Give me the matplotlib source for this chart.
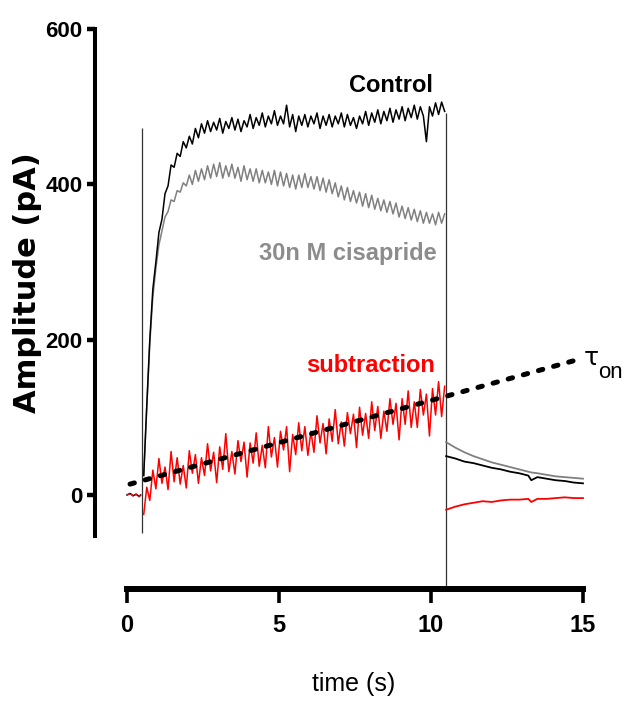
import numpy as np
import matplotlib
matplotlib.use('Agg')
import matplotlib.pyplot as plt

SANS = ['Liberation Sans', 'DejaVu Sans']

# baseline before the pulse (s, pA)
pre_t = [0.0, 0.1, 0.2, 0.3, 0.4, 0.45]
pre_v = [0, 2, -1, 1, -2, 0]

# stimulus artifacts (time, low, high)
artifact_on = (0.49, -49, 473)
artifact_off = (10.49, -118, 492)

# on-phase, sampled every 0.1 s from 0.55 s
on_t = np.round(np.arange(0.55, 10.5, 0.1), 2)

control_on = [25, 115, 200, 265, 300, 338, 355, 388, 398, 425,
              422, 440, 436, 455, 447, 462, 452, 472, 460, 478,
              466, 482, 468, 480, 470, 485, 466, 481, 472, 486,
              470, 484, 468, 482, 474, 490, 472, 486, 476, 492,
              474, 488, 478, 495, 476, 488, 478, 502, 474, 490,
              468, 488, 476, 490, 474, 488, 478, 492, 472, 488,
              476, 490, 474, 488, 478, 492, 474, 490, 476, 486,
              472, 488, 478, 494, 476, 492, 480, 496, 478, 494,
              482, 498, 480, 496, 484, 500, 482, 498, 486, 502,
              484, 500, 488, 455, 500, 488, 505, 490, 506, 494]

cisapride_on = [25, 112, 195, 255, 292, 322, 340, 358, 365, 380,
                378, 392, 390, 402, 398, 412, 400, 418, 404, 420,
                406, 424, 408, 426, 410, 428, 408, 424, 410, 426,
                408, 422, 404, 424, 406, 420, 404, 420, 402, 418,
                402, 416, 400, 418, 398, 416, 398, 414, 396, 412,
                394, 412, 396, 414, 396, 410, 394, 410, 392, 408,
                390, 406, 388, 402, 384, 398, 380, 396, 378, 392,
                376, 390, 372, 388, 370, 386, 368, 382, 366, 380,
                364, 378, 362, 376, 358, 372, 356, 370, 354, 368,
                352, 366, 350, 364, 350, 362, 348, 364, 350, 362]

subtraction_on = [-25, 10, -7, 32, 8, 47, 15, 36, 7, 56,
                  17, 48, 14, 38, 9, 57, 28, 52, 15, 48,
                  25, 66, 31, 55, 16, 62, 33, 79, 30, 56,
                  27, 70, 43, 68, 23, 67, 41, 80, 37, 64,
                  35, 88, 49, 74, 36, 82, 58, 88, 30, 78,
                  52, 93, 57, 88, 51, 82, 55, 102, 67, 92,
                  53, 98, 69, 110, 66, 94, 63, 106, 79, 104,
                  61, 113, 77, 105, 73, 120, 83, 114, 73, 108,
                  82, 124, 91, 118, 71, 124, 91, 134, 87, 120,
                  87, 136, 103, 130, 76, 137, 103, 146, 101, 140]

# off-phase (tail after the pulse)
off_t = [10.5, 10.8, 11.1, 11.4, 11.7, 12.0, 12.3, 12.6, 12.9, 13.2,
         13.3, 13.5, 13.8, 14.1, 14.4, 14.7, 15.0]
control_off = [50, 47, 43, 41, 38, 35, 33, 30, 28, 25, 19, 23, 21, 19, 18, 16, 15]
cisapride_off = [68, 61, 55, 50, 46, 42, 39, 36, 33, 30, 29, 28, 26, 24, 23, 22, 21]
subtraction_off = [-19, -15, -12, -10, -8, -9, -7, -6, -6, -5, -9, -5, -5, -4, -3, -4, -4]

# tau_on fit line
fit_t = [0.1, 14.8]
fit_v = [14, 174]

fig = plt.figure(figsize=(6.26, 7.11), dpi=100)
ax = fig.add_axes([80 / 626, 91 / 711, 520 / 626, 600 / 711])

gray = '#808080'
lw = 1.1

ax.plot(pre_t, pre_v, color='black', lw=lw, zorder=3)
ax.plot(pre_t, pre_v, color='red', lw=lw, ls=(0, (2, 1)), zorder=4)
ax.vlines(artifact_on[0], artifact_on[1], artifact_on[2], color='#333333', lw=0.9, zorder=2)
ax.vlines(artifact_off[0], artifact_off[1], artifact_off[2], color='#333333', lw=0.9, zorder=2)

ax.plot(on_t, cisapride_on, color=gray, lw=lw, zorder=2)
ax.plot(on_t, control_on, color='black', lw=lw, zorder=3)
ax.plot(on_t, subtraction_on, color='red', lw=lw, zorder=4)

ax.plot(off_t, cisapride_off, color=gray, lw=1.3, zorder=2)
ax.plot(off_t, control_off, color='black', lw=1.3, zorder=3)
ax.plot(off_t, subtraction_off, color='red', lw=1.3, zorder=4)

ax.plot(fit_t, fit_v, color='black', lw=3.6, ls=(0, (0.9, 2.24)),
        dash_capstyle='round', zorder=5)

ax.text(10.07, 519, 'Control', ha='right', va='baseline', fontsize=17,
        fontweight='bold', family=SANS, color='black')
ax.text(10.2, 303, '30n M cisapride', ha='right', va='baseline', fontsize=17,
        fontweight='bold', family=SANS, color='#8c8c8c')
ax.text(10.13, 158, 'subtraction', ha='right', va='baseline', fontsize=17,
        fontweight='bold', family=SANS, color='red')
ax.text(15.02, 168, 'τ', ha='left', va='baseline', fontsize=18, family='DejaVu Sans')
ax.text(15.5, 151, 'on', ha='left', va='baseline', fontsize=16, family=SANS)

ax.set_xlim(-1.546, 15.56)
ax.set_ylim(-161.0, 611.7)

for s in ['top', 'right']:
    ax.spines[s].set_visible(False)
ax.spines['left'].set_position(('data', -1.053))
ax.spines['left'].set_bounds(-53, 600)
ax.spines['left'].set_linewidth(2.9)
ax.spines['bottom'].set_position(('data', -121))
ax.spines['bottom'].set_bounds(0, 15)
ax.spines['bottom'].set_linewidth(4.3)

ax.set_yticks([0, 200, 400, 600])
ax.set_xticks([0, 5, 10, 15])
ax.tick_params(axis='y', direction='out', length=6, width=3.2, pad=3)
ax.tick_params(axis='x', direction='out', length=10, width=2.6, pad=8)
for lab in ax.get_yticklabels():
    lab.set_family(SANS)
    lab.set_fontweight('bold')
    lab.set_fontsize(16)
for lab in ax.get_xticklabels():
    lab.set_family(SANS)
    lab.set_fontweight('bold')
    lab.set_fontsize(17)

ax.set_xlabel('time (s)', fontsize=18, family=SANS)
ax.xaxis.set_label_coords(0.527, -0.087)
ax.set_ylabel('Amplitude (pA)', fontsize=22, fontweight='bold', family='DejaVu Sans', va='center')
ax.yaxis.set_label_coords(-0.1, 0.5617)

fig.savefig('out.png', dpi=100)
